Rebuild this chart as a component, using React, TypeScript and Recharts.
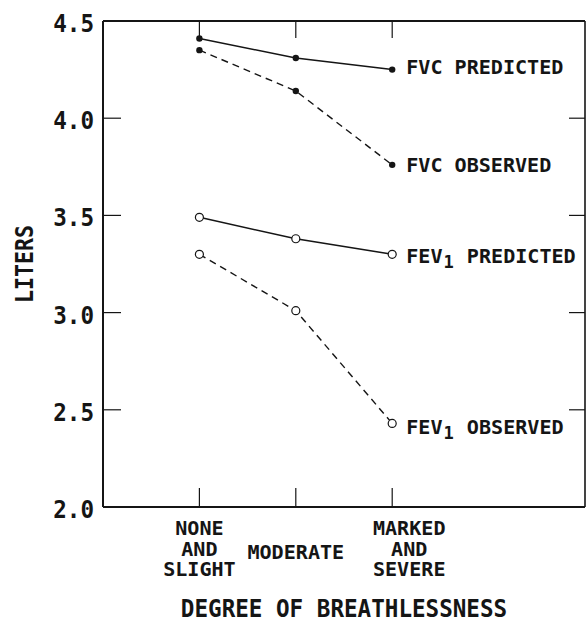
import React from 'react';
import { LineChart, Line, XAxis, YAxis } from 'recharts';

// Degree of breathlessness groups (plotted at 1, 2, 3 on a 0–5 axis)
const breathlessness = [1, 2, 3];
const categoryLabels: string[][] = [
  ['NONE', 'AND', 'SLIGHT'],
  ['MODERATE'],
  ['MARKED', 'AND', 'SEVERE'],
];

// Lung volumes in liters
const fvcPredicted = [4.41, 4.31, 4.25];
const fvcObserved = [4.35, 4.14, 3.76];
const fev1Predicted = [3.49, 3.38, 3.3];
const fev1Observed = [3.3, 3.01, 2.43];

const literTicks = [2.0, 2.5, 3.0, 3.5, 4.0, 4.5];
const literDomain: [number, number] = [2.0, 4.5];
const groupDomain: [number, number] = [0, 5];

const rows = breathlessness.map((g, i) => ({
  g,
  fvcPredicted: fvcPredicted[i],
  fvcObserved: fvcObserved[i],
  fev1Predicted: fev1Predicted[i],
  fev1Observed: fev1Observed[i],
}));

const INK = '#151515';
const MONO = '"DejaVu Sans Mono", "Liberation Mono", monospace';
const CAP_RATIO = 0.729;
const ADVANCE_RATIO = 0.602;
const TICK_LEN = 18;

type LetteringProps = {
  x: number;
  y: number;
  cap: number;
  pitch: number;
  anchor?: 'start' | 'middle' | 'end';
  rotate?: number;
  children: React.ReactNode;
};

// Stencil-style capitals: a bold monospace face stretched to a given cap height and letter pitch
function Lettering({ x, y, cap, pitch, anchor = 'start', rotate = 0, children }: LetteringProps) {
  const fontSize = cap / CAP_RATIO;
  const sx = pitch / (ADVANCE_RATIO * fontSize);
  return (
    <text
      transform={`translate(${x},${y}) rotate(${rotate}) scale(${sx},1)`}
      x={0}
      y={0}
      fontFamily={MONO}
      fontWeight="bold"
      fontSize={fontSize}
      textAnchor={anchor}
      fill={INK}
    >
      {children}
    </text>
  );
}

const isEdge = (v: number, d: [number, number]) => Math.abs(v - d[0]) < 1e-9 || Math.abs(v - d[1]) < 1e-9;

function LeftTick(props: any) {
  const { x, y, payload } = props;
  const v = Number(payload.value);
  return (
    <g>
      {!isEdge(v, literDomain) && (
        <line x1={x} x2={x + TICK_LEN} y1={y} y2={y} stroke={INK} strokeWidth={1.2} />
      )}
      <Lettering x={x - 9} y={y + 11} cap={17.5} pitch={13.6} anchor="end">
        {v.toFixed(1)}
      </Lettering>
    </g>
  );
}

function RightTick(props: any) {
  const { x, y, payload } = props;
  const v = Number(payload.value);
  if (isEdge(v, literDomain)) return <g />;
  return <line x1={x - TICK_LEN + 2} x2={x} y1={y} y2={y} stroke={INK} strokeWidth={1.2} />;
}

function TopTick(props: any) {
  const { x, y } = props;
  return <line x1={x} x2={x} y1={y} y2={y + TICK_LEN - 1} stroke={INK} strokeWidth={1.2} />;
}

// Horizontal nudge for multi-line group captions
const captionShift: Record<string, number> = { MARKED: 17 };

function BottomTick(props: any) {
  const { x, y, payload, index } = props;
  const lines = categoryLabels[index] ?? [String(payload.value)];
  const cx = x + (captionShift[lines[0]] ?? 0);
  return (
    <g>
      <line x1={x} x2={x} y1={y - TICK_LEN - 1} y2={y} stroke={INK} strokeWidth={1.2} />
      {lines.length === 1 ? (
        <Lettering x={cx} y={y + 52} cap={14.4} pitch={12.1} anchor="middle">
          {lines[0]}
        </Lettering>
      ) : (
        lines.map((t, i) => (
          <Lettering key={t + i} x={cx} y={y + 28 + i * 20.6} cap={14.4} pitch={12.1} anchor="middle">
            {t}
          </Lettering>
        ))
      )}
    </g>
  );
}

function SeriesName({ name }: { name: string }) {
  // "FEV1" is lettered with a smaller, lowered 1
  if (name.startsWith('FEV1')) {
    return (
      <>
        FEV
        <tspan dy={5} dx={1} fontSize="85%">1</tspan>
        <tspan dy={-5} dx={1}>{name.slice(4)}</tspan>
      </>
    );
  }
  return <>{name}</>;
}

function makeDot(filled: boolean, name: string, nudge: number) {
  const last = rows.length - 1;
  return (p: any) => {
    const { cx, cy, index } = p;
    if (cx == null || cy == null) return <g key={`d-${name}-${index}`} />;
    return (
      <g key={`d-${name}-${index}`}>
        {filled ? (
          <circle cx={cx} cy={cy} r={3.2} fill={INK} stroke="none" />
        ) : (
          <circle cx={cx} cy={cy} r={4} fill="#fff" stroke={INK} strokeWidth={1.2} />
        )}
        {index === last && (
          <Lettering x={cx + 14} y={cy + nudge + 7.3} cap={14.6} pitch={12.1}>
            <SeriesName name={name} />
          </Lettering>
        )}
      </g>
    );
  };
}

function LitersTitle(props: any) {
  const vb = props.viewBox ?? { x: 0, y: 21, width: 103, height: 486 };
  const cy = vb.y + vb.height / 2;
  // rotated baseline sits on the right of the glyphs
  return (
    <Lettering x={vb.x + 33} y={cy} cap={18.5} pitch={13} anchor="middle" rotate={-90}>
      LITERS
    </Lettering>
  );
}

function GroupTitle(props: any) {
  const vb = props.viewBox ?? { x: 103, y: 507, width: 482, height: 115 };
  return (
    <Lettering x={vb.x + vb.width / 2} y={vb.y + 110} cap={18} pitch={13.6} anchor="middle">
      DEGREE OF BREATHLESSNESS
    </Lettering>
  );
}

export default function App() {
  return (
    <div style={{ position: 'absolute', left: 0, top: 0, background: '#fff' }}>
      <LineChart width={587} height={622} data={rows} margin={{ top: 20, right: 1, bottom: 0, left: 0 }}>
        <XAxis
          xAxisId="bottom"
          dataKey="g"
          type="number"
          domain={groupDomain}
          ticks={breathlessness}
          interval={0}
          allowDataOverflow
          height={115}
          tickSize={0}
          tickMargin={0}
          tickLine={false}
          axisLine={{ stroke: INK, strokeWidth: 2 }}
          tick={(p: any) => <BottomTick {...p} />}
          label={{ content: (p: any) => <GroupTitle {...p} /> }}
        />
        <XAxis
          xAxisId="top"
          orientation="top"
          dataKey="g"
          type="number"
          domain={groupDomain}
          ticks={breathlessness}
          interval={0}
          allowDataOverflow
          height={1}
          tickSize={0}
          tickMargin={0}
          tickLine={false}
          axisLine={{ stroke: INK, strokeWidth: 2 }}
          tick={(p: any) => <TopTick {...p} />}
        />
        <YAxis
          yAxisId="left"
          type="number"
          domain={literDomain}
          ticks={literTicks}
          interval={0}
          allowDataOverflow
          width={103}
          tickSize={0}
          tickMargin={0}
          tickLine={false}
          axisLine={{ stroke: INK, strokeWidth: 2 }}
          tick={(p: any) => <LeftTick {...p} />}
          label={{ content: (p: any) => <LitersTitle {...p} /> }}
        />
        <YAxis
          yAxisId="right"
          orientation="right"
          type="number"
          domain={literDomain}
          ticks={literTicks}
          interval={0}
          allowDataOverflow
          width={1}
          tickSize={0}
          tickMargin={0}
          tickLine={false}
          axisLine={{ stroke: INK, strokeWidth: 1.6 }}
          tick={(p: any) => <RightTick {...p} />}
        />
        <Line
          xAxisId="bottom"
          yAxisId="left"
          dataKey="fvcPredicted"
          stroke={INK}
          strokeWidth={1.5}
          dot={makeDot(true, 'FVC PREDICTED', -3)}
          isAnimationActive={false}
        />
        <Line
          xAxisId="bottom"
          yAxisId="left"
          dataKey="fvcObserved"
          stroke={INK}
          strokeWidth={1.4}
          strokeDasharray="7 5"
          dot={makeDot(true, 'FVC OBSERVED', 0)}
          isAnimationActive={false}
        />
        <Line
          xAxisId="top"
          yAxisId="right"
          dataKey="fev1Predicted"
          stroke={INK}
          strokeWidth={1.5}
          dot={makeDot(false, 'FEV1 PREDICTED', 1)}
          isAnimationActive={false}
        />
        <Line
          xAxisId="top"
          yAxisId="right"
          dataKey="fev1Observed"
          stroke={INK}
          strokeWidth={1.4}
          strokeDasharray="7 5"
          dot={makeDot(false, 'FEV1 OBSERVED', 3)}
          isAnimationActive={false}
        />
      </LineChart>
    </div>
  );
}
